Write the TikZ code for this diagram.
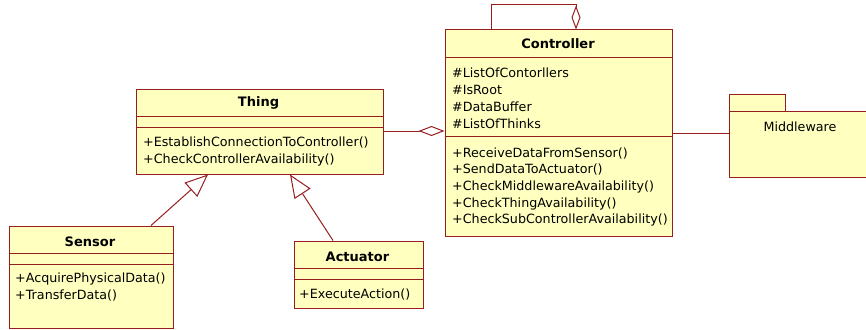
\documentclass[tikz,border=0pt]{standalone}
\usepackage{fontspec}
\setmainfont{DejaVu Sans}
\usetikzlibrary{arrows.meta}
\definecolor{umlfill}{RGB}{255,255,192}
\definecolor{umlline}{RGB}{150,30,30}
\tikzset{
  classbox/.style={draw=umlline, fill=umlfill, line width=1pt, inner sep=0pt, anchor=north west},
  sepline/.style={draw=umlline, line width=1pt},
  classtitle/.style={font=\fontsize{13}{15}\selectfont\bfseries, anchor=base, inner sep=0pt},
  member/.style={font=\fontsize{12.7}{14}\selectfont, anchor=base west, inner sep=0pt},
  link/.style={draw=umlline, line width=1pt},
  agg/.style={link, -{Diamond[open, length=26pt, width=10pt]}},
  aggloop/.style={link, -{Diamond[open, length=24pt, width=9pt]}},
  gen/.style={link, -{Triangle[open, length=23pt, width=19pt]}},
}
\begin{document}
\begin{tikzpicture}[x=1pt,y=-1pt]
\useasboundingbox (0,0) rectangle (866,329);
\clip (0,0) rectangle (866,329);

% Controller
\node[classbox, minimum width=227pt, minimum height=206pt] (ctrl) at (444.5,29.5) {};
\coordinate (c1) at (0,57); \coordinate (c2) at (0,136.5);
\draw[sepline] (ctrl.west |- c1) -- (ctrl.east |- c1);
\draw[sepline] (ctrl.west |- c2) -- (ctrl.east |- c2);
\node[classtitle] (ctrltitle) at (558,48.5) {Controller};
\node[member] (ca1) at (452,77) {\#ListOfContorllers};
\node[member] (ca2) at (452,94) {\#IsRoot};
\node[member] (ca3) at (452,111) {\#DataBuffer};
\node[member] (ca4) at (452,128) {\#ListOfThinks};
\node[member] (cm1) at (452,157) {+ReceiveDataFromSensor()};
\node[member] (cm2) at (452,173.5) {+SendDataToActuator()};
\node[member] (cm3) at (452,190) {+CheckMiddlewareAvailability()};
\node[member] (cm4) at (452,207) {+CheckThingAvailability()};
\node[member] (cm5) at (452,223.5) {+CheckSubControllerAvailability()};

% Thing
\node[classbox, minimum width=247pt, minimum height=85pt] (thing) at (135.5,88.5) {};
\coordinate (t1) at (0,116); \coordinate (t2) at (0,127);
\draw[sepline] (thing.west |- t1) -- (thing.east |- t1);
\draw[sepline] (thing.west |- t2) -- (thing.east |- t2);
\node[classtitle] (thingtitle) at (258.5,106.5) {Thing};
\node[member] (tm1) at (143,146) {+EstablishConnectionToController()};
\node[member] (tm2) at (143,163) {+CheckControllerAvailability()};

% Sensor
\node[classbox, minimum width=164pt, minimum height=102pt] (sensor) at (8.5,225.5) {};
\coordinate (s1) at (0,253); \coordinate (s2) at (0,264);
\draw[sepline] (sensor.west |- s1) -- (sensor.east |- s1);
\draw[sepline] (sensor.west |- s2) -- (sensor.east |- s2);
\node[classtitle] (sensortitle) at (90,246) {Sensor};
\node[member] (sm1) at (15,282) {+AcquirePhysicalData()};
\node[member] (sm2) at (15,299) {+TransferData()};

% Actuator
\node[classbox, minimum width=129pt, minimum height=67pt] (act) at (293.5,240.5) {};
\coordinate (a1) at (0,268); \coordinate (a2) at (0,279);
\draw[sepline] (act.west |- a1) -- (act.east |- a1);
\draw[sepline] (act.west |- a2) -- (act.east |- a2);
\node[classtitle] (acttitle) at (357.5,261) {Actuator};
\node[member] (am1) at (299,298) {+ExecuteAction()};

% Middleware package
\node[classbox, minimum width=56pt, minimum height=17pt] (mwtab) at (728.5,93.5) {};
\node[classbox, minimum width=160pt, minimum height=66pt] (mw) at (728.5,110.5) {};
\node[font=\fontsize{12.7}{14}\selectfont, anchor=base, inner sep=0pt] (mwlabel) at (800,131.5) {Middleware};

% Connectors
\coordinate (aggy) at (0,131);
\draw[agg] (thing.east |- aggy) -- (ctrl.west |- aggy);
\coordinate (mwy) at (0,133);
\draw[link] (ctrl.east |- mwy) -- (mw.west |- mwy);
\coordinate (loopL) at (491.5,5);
\coordinate (loopR) at (576,5);
\draw[aggloop] (ctrl.north -| loopL) -- (loopL) -- (loopR) -- (ctrl.north -| loopR);
\coordinate (sensA) at (151,0); \coordinate (thingA) at (208,0);
\draw[gen] (sensor.north -| sensA) -- (thing.south -| thingA);
\coordinate (actA) at (333,0); \coordinate (thingB) at (290,0);
\draw[gen] (act.north -| actA) -- (thing.south -| thingB);
\end{tikzpicture}
\end{document}
